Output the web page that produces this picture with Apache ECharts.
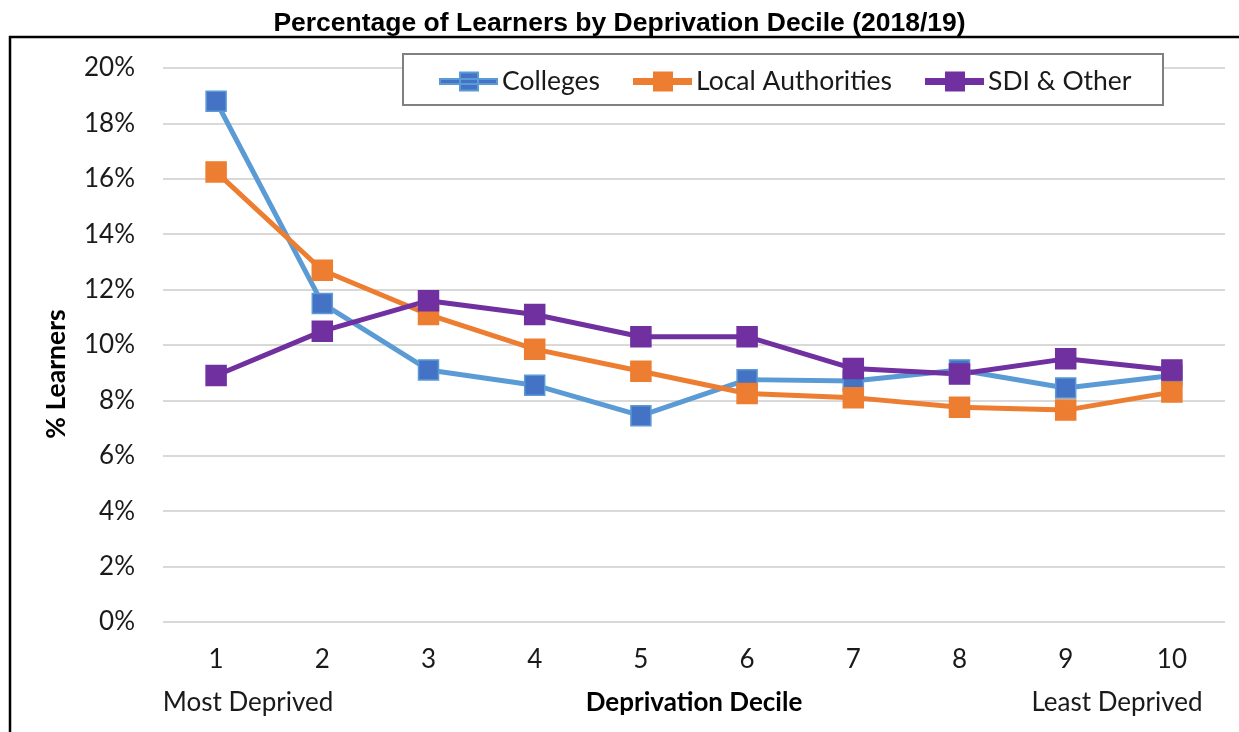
<!DOCTYPE html>
<html>
<head>
<meta charset="utf-8">
<script src="https://cdn.jsdelivr.net/npm/echarts@6/dist/echarts.min.js"></script>
<style>
html,body{margin:0;padding:0;background:#fff;}
#chart{width:1239px;height:732px;}
</style>
</head>
<body>
<div id="chart"></div>
<script>
const categories = ['1','2','3','4','5','6','7','8','9','10'];
const colleges = [18.8, 11.5, 9.1, 8.55, 7.45, 8.75, 8.7, 9.1, 8.45, 8.9];
const localAuthorities = [16.25, 12.7, 11.1, 9.85, 9.05, 8.25, 8.1, 7.75, 7.65, 8.3];
const sdiOther = [8.9, 10.5, 11.6, 11.1, 10.3, 10.3, 9.15, 8.95, 9.5, 9.1];
const yTicks = [0, 2, 4, 6, 8, 10, 12, 14, 16, 18, 20];

const FONT = 'Lato, "Open Sans", sans-serif';
const FS = 26;
const chart = echarts.init(document.getElementById('chart'));
const legendIcon = 'path://M0,6.5L57,6.5L57,11.5L0,11.5Z M20,0L38,0L38,18L20,18Z';

function mkSeries(name, data, lineColor, markerColor) {
  return {
    name: name,
    type: 'line',
    data: data,
    symbol: 'rect',
    symbolSize: 20,
    lineStyle: {color: lineColor, width: 5},
    itemStyle: {color: markerColor, borderColor: lineColor, borderWidth: 1.5},
    emphasis: {disabled: true},
    z: 3
  };
}

chart.setOption({
  animation: false,
  backgroundColor: '#fff',
  title: {
    text: 'Percentage of Learners by Deprivation Decile (2018/19)',
    left: 'center',
    top: 5,
    textStyle: {fontFamily: '"Liberation Sans", Arial, sans-serif', fontWeight: 'bold', fontSize: 26.5, color: '#000'}
  },
  grid: {left: 163, right: 14, top: 68, bottom: 110, containLabel: false},
  legend: {
    left: 434,
    top: 63,
    itemWidth: 57,
    itemHeight: 18,
    itemGap: 33,
    z: 10,
    icon: legendIcon,
    textStyle: {fontFamily: FONT, fontSize: 26.5, color: '#1a1a1a'},
    data: ['Colleges', 'Local Authorities', 'SDI & Other']
  },
  xAxis: {
    type: 'category',
    data: categories,
    boundaryGap: true,
    axisLine: {show: false},
    axisTick: {show: false},
    axisLabel: {fontFamily: FONT, fontSize: FS, color: '#1a1a1a', margin: 25}
  },
  yAxis: {
    type: 'value',
    min: 0,
    max: 20,
    interval: 2,
    axisLine: {show: false},
    axisTick: {show: false},
    splitLine: {lineStyle: {color: '#d9d9d9', width: 2}},
    axisLabel: {
      fontFamily: FONT, fontSize: FS, color: '#1a1a1a', margin: 28,
      formatter: function (v) { return yTicks.indexOf(v) >= 0 ? v + '%' : ''; }
    }
  },
  graphic: [
    {type: 'rect', z: 0, silent: true, shape: {x: 10, y: 37, width: 1300, height: 800},
     style: {fill: 'none', stroke: '#000', lineWidth: 2.5}},
    {type: 'rect', z: 5, silent: true, shape: {x: 403, y: 54, width: 760, height: 51},
     style: {fill: '#fff', stroke: '#808080', lineWidth: 2}},
    {type: 'text', z: 5, silent: true, x: 248, y: 703,
     style: {text: 'Most Deprived', fontFamily: FONT, fontSize: FS, fill: '#1a1a1a', textAlign: 'center', textVerticalAlign: 'middle'}},
    {type: 'text', z: 5, silent: true, x: 694, y: 703,
     style: {text: 'Deprivation Decile', fontFamily: FONT, fontSize: FS, fontWeight: 'bold', fill: '#000', textAlign: 'center', textVerticalAlign: 'middle'}},
    {type: 'text', z: 5, silent: true, x: 1117, y: 703,
     style: {text: 'Least Deprived', fontFamily: FONT, fontSize: FS, fill: '#1a1a1a', textAlign: 'center', textVerticalAlign: 'middle'}},
    {type: 'text', z: 5, silent: true, x: 56, y: 374, rotation: Math.PI / 2,
     style: {text: '% Learners', fontFamily: FONT, fontSize: 26.5, fontWeight: 'bold', fill: '#000', textAlign: 'center', textVerticalAlign: 'middle'}}
  ],
  series: [
    mkSeries('Colleges', colleges, '#5B9BD5', '#4472C4'),
    mkSeries('Local Authorities', localAuthorities, '#ED7D31', '#ED7D31'),
    mkSeries('SDI & Other', sdiOther, '#7030A0', '#7030A0')
  ]
});
</script>
</body>
</html>
